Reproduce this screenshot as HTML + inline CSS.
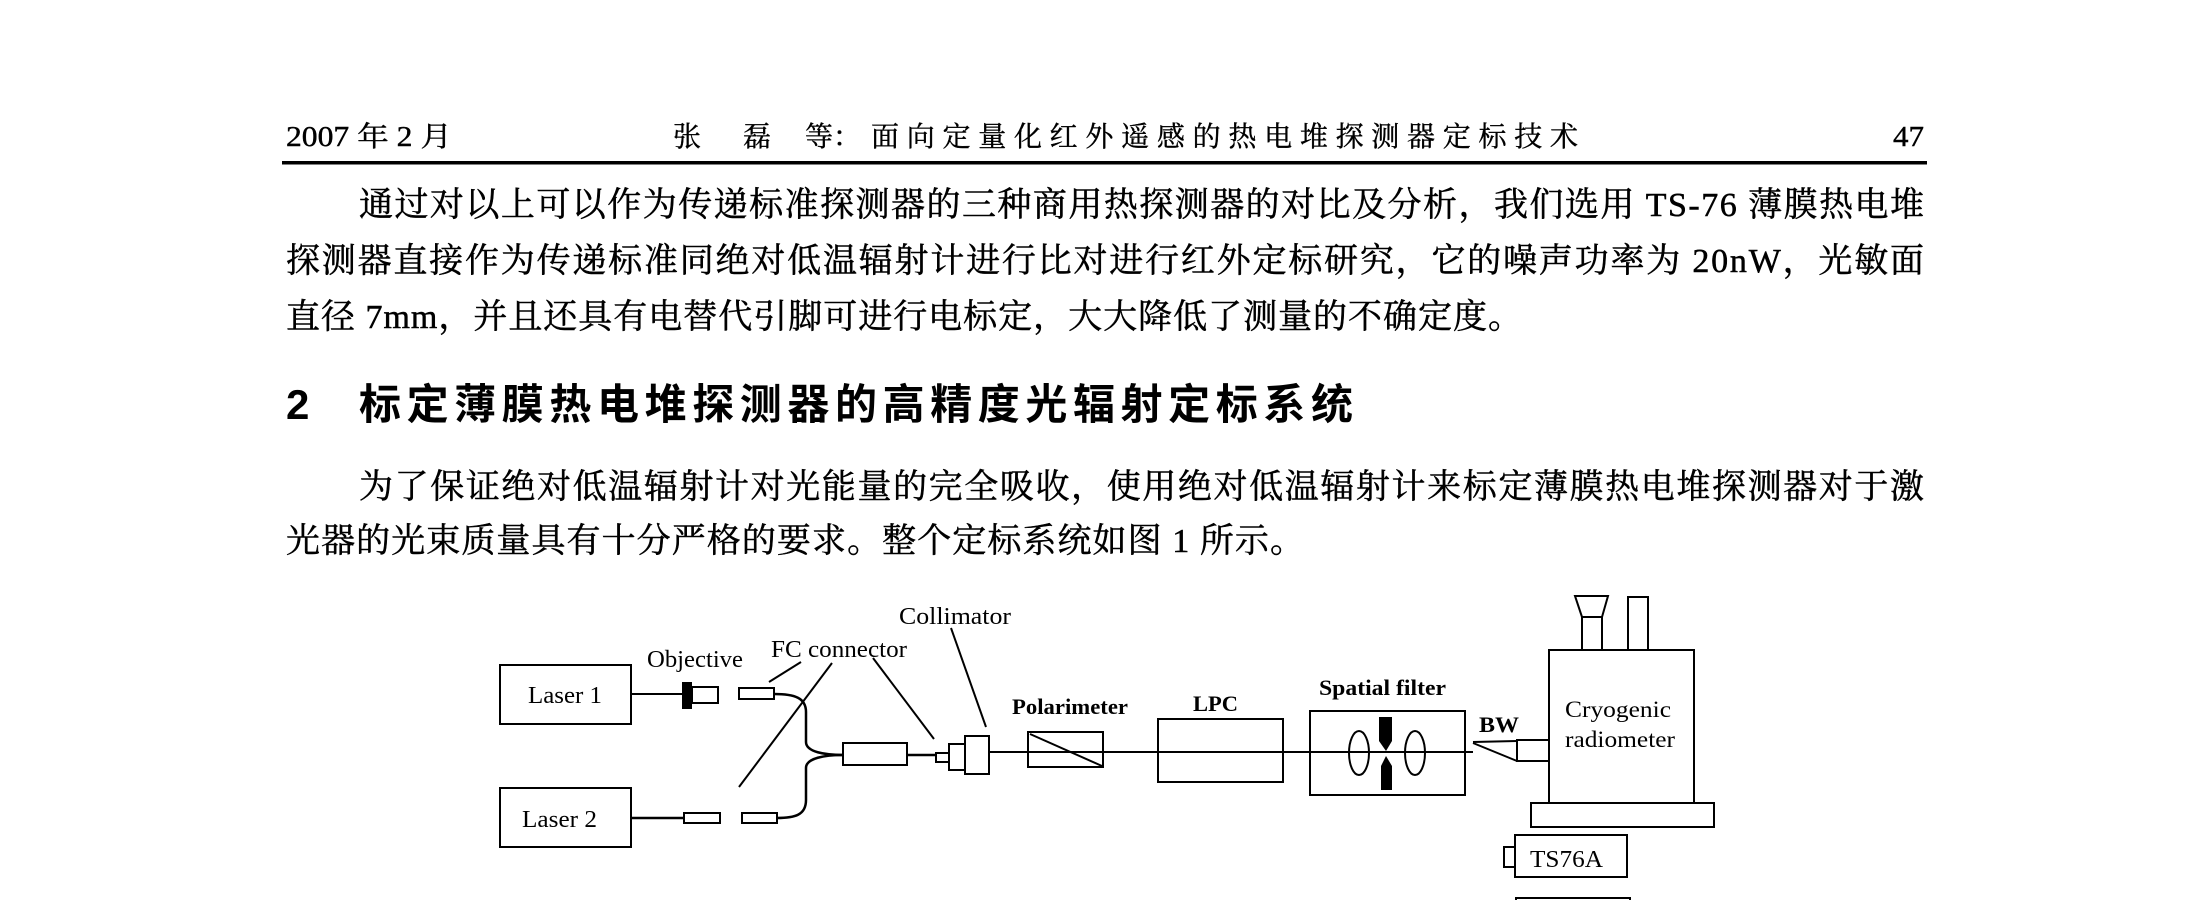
<!DOCTYPE html>
<html><head><meta charset="utf-8"><style>
html,body{margin:0;padding:0;background:#fff;width:2210px;height:900px;overflow:hidden}
svg{display:block}
.b{font-family:"Liberation Serif","Noto Serif CJK SC",serif;font-size:34px;fill:#000;stroke:#000;stroke-width:0.5}
.h{font-family:"Liberation Serif","Noto Serif CJK SC",serif;font-size:28px;fill:#000;stroke:#000;stroke-width:0.4}
.d{font-family:"Liberation Serif",serif;fill:#000}
</style></head><body>
<svg width="2210" height="900" viewBox="0 0 2210 900" xmlns="http://www.w3.org/2000/svg">
<text class="h" x="286" y="146" textLength="166" lengthAdjust="spacingAndGlyphs">2007 年 2 月</text>
<text class="h" x="673" y="146" font-size="32">张</text>
<text class="h" x="743" y="146" font-size="32">磊</text>
<text class="h" x="805" y="146" font-size="32">等：</text>
<text class="h" x="871" y="146" font-size="32" textLength="707" lengthAdjust="spacing">面向定量化红外遥感的热电堆探测器定标技术</text>
<text class="h" x="1893" y="146" textLength="31" lengthAdjust="spacingAndGlyphs">47</text>
<rect x="282" y="161" width="1645" height="3.5" fill="#000"/>
<text class="b" x="359" y="216" textLength="1565" lengthAdjust="spacing">通过对以上可以作为传递标准探测器的三种商用热探测器的对比及分析，我们选用 TS-76 薄膜热电堆</text>
<text class="b" x="286" y="272" textLength="1638" lengthAdjust="spacing">探测器直接作为传递标准同绝对低温辐射计进行比对进行红外定标研究，它的噪声功率为 20nW，光敏面</text>
<text class="b" x="286" y="328" textLength="1236" lengthAdjust="spacing">直径 7mm，并且还具有电替代引脚可进行电标定，大大降低了测量的不确定度。</text>
<text x="286" y="419" font-family="Liberation Sans,Noto Sans CJK SC,sans-serif" font-size="42" font-weight="bold">2</text>
<text x="359" y="419" font-family="Liberation Sans,Noto Sans CJK SC,sans-serif" font-size="42" font-weight="bold" textLength="994" lengthAdjust="spacing">标定薄膜热电堆探测器的高精度光辐射定标系统</text>
<text class="b" x="359" y="498" textLength="1565" lengthAdjust="spacing">为了保证绝对低温辐射计对光能量的完全吸收，使用绝对低温辐射计来标定薄膜热电堆探测器对于激</text>
<text class="b" x="286" y="552" textLength="1018" lengthAdjust="spacing">光器的光束质量具有十分严格的要求。整个定标系统如图 1 所示。</text>

<g fill="none" stroke="#000" stroke-width="2">
<rect x="500" y="665" width="131" height="59"/>
<rect x="500" y="788" width="131" height="59"/>
<line x1="631" y1="694" x2="682" y2="694"/>
<rect x="692" y="687" width="26" height="16"/>
<rect x="739" y="688" width="35" height="11"/>
<line x1="631" y1="818" x2="684" y2="818" stroke-width="2.5"/>
<rect x="684" y="813" width="36" height="10"/>
<rect x="742" y="813" width="35" height="10"/>
<path d="M774 694 C795 694 806 698 806 712 L806 742 C806 752 825 755 843 755" stroke-width="2.5"/>
<path d="M777 818 C795 818 806 815 806 800 L806 768 C806 758 825 755 843 755" stroke-width="2.5"/>
<rect x="843" y="743" width="64" height="22"/>
<line x1="907" y1="755" x2="936" y2="755" stroke-width="2.5"/>
<rect x="936" y="753" width="13" height="9"/>
<rect x="949" y="744" width="16" height="26"/>
<rect x="965" y="736" width="24" height="38"/>
<line x1="989" y1="752" x2="1473" y2="752"/>
<rect x="1028" y="732" width="75" height="35"/>
<line x1="1030" y1="734" x2="1102" y2="766"/>
<rect x="1158" y="719" width="125" height="63"/>
<line x1="769" y1="682" x2="801" y2="662"/>
<line x1="739" y1="787" x2="832" y2="663"/>
<line x1="873" y1="658" x2="934" y2="739"/>
<line x1="951" y1="628" x2="986" y2="727"/>
<rect x="1310" y="711" width="155" height="84"/>
<ellipse cx="1359" cy="753" rx="10" ry="22"/>
<ellipse cx="1415" cy="753" rx="10" ry="22"/>
<path d="M1473 742 L1517 741 M1473 743 L1517 761"/>
<rect x="1517" y="740" width="32" height="21"/>
<rect x="1549" y="650" width="145" height="153"/>
<rect x="1531" y="803" width="183" height="24"/>
<rect x="1582" y="617" width="20" height="33"/>
<path d="M1575 596 L1608 596 L1602 617 L1582 617 Z"/>
<rect x="1628" y="597" width="20" height="53"/>
<rect x="1515" y="835" width="112" height="42"/>
<rect x="1504" y="847" width="11" height="20"/>
<rect x="1516" y="898" width="114" height="10"/>
</g>
<rect x="682" y="682" width="10" height="27" fill="#000"/>
<path d="M1379 717 L1392 717 L1392 741 L1386 751 L1379 741 Z" fill="#000"/>
<path d="M1381 790 L1392 790 L1392 766 L1386 756 L1381 766 Z" fill="#000"/>

<text class="d" x="528" y="703" font-size="24" textLength="74" lengthAdjust="spacingAndGlyphs">Laser 1</text>
<text class="d" x="522" y="827" font-size="24" textLength="75" lengthAdjust="spacingAndGlyphs">Laser 2</text>
<text class="d" x="647" y="667" font-size="24" textLength="96" lengthAdjust="spacingAndGlyphs">Objective</text>
<text class="d" x="771" y="657" font-size="24" textLength="136" lengthAdjust="spacingAndGlyphs">FC connector</text>
<text class="d" x="899" y="624" font-size="24" textLength="112" lengthAdjust="spacingAndGlyphs">Collimator</text>
<text class="d" x="1012" y="714" font-size="22" font-weight="bold" textLength="116" lengthAdjust="spacingAndGlyphs">Polarimeter</text>
<text class="d" x="1193" y="711" font-size="22" font-weight="bold" textLength="45" lengthAdjust="spacingAndGlyphs">LPC</text>
<text class="d" x="1319" y="695" font-size="22" font-weight="bold" textLength="127" lengthAdjust="spacingAndGlyphs">Spatial filter</text>
<text class="d" x="1479" y="732" font-size="22" font-weight="bold" textLength="40" lengthAdjust="spacingAndGlyphs">BW</text>
<text class="d" x="1565" y="717" font-size="23" textLength="106" lengthAdjust="spacingAndGlyphs">Cryogenic</text>
<text class="d" x="1565" y="747" font-size="23" textLength="110" lengthAdjust="spacingAndGlyphs">radiometer</text>
<text class="d" x="1530" y="867" font-size="24" textLength="73" lengthAdjust="spacingAndGlyphs">TS76A</text>
</svg>
</body></html>
